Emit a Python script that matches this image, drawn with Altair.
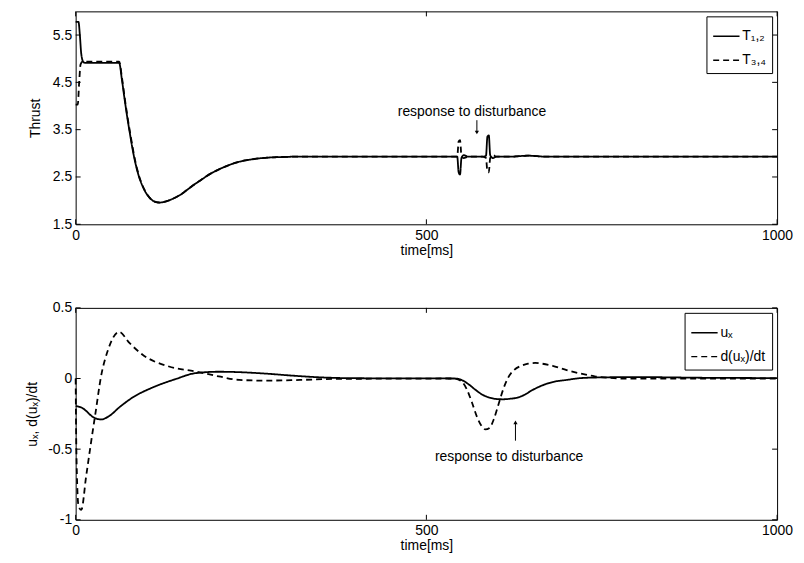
import altair as alt
import pandas as pd

# ---------------- data ----------------
t12 = [0, 4, 6, 8, 11, 14, 62, 66, 70, 74, 78, 82, 86, 90, 95, 100, 105, 110, 115, 120,
       125, 130, 140, 150, 160, 170, 180, 190, 200, 215, 230, 250, 270, 290, 320, 400, 500, 544, 546, 548,
       550, 553, 560, 580, 585, 587, 589, 591, 595, 600, 620, 645, 670, 700, 800, 900, 1000]
T12 = [5.78, 5.78, 5.5, 5.1, 4.93, 4.91, 4.91, 4.55, 4.12, 3.72, 3.36, 3.02, 2.74, 2.52, 2.32, 2.17, 2.07, 2.0, 1.97, 1.96,
       1.97, 1.99, 2.05, 2.13, 2.24, 2.35, 2.45, 2.55, 2.63, 2.73, 2.81, 2.87, 2.905, 2.92, 2.93, 2.93, 2.93, 2.93, 2.6, 2.55,
       2.9, 2.96, 2.93, 2.93, 2.95, 3.35, 3.38, 2.96, 2.9, 2.93, 2.93, 2.95, 2.93, 2.93, 2.93, 2.93, 2.93]
t34 = [0, 3, 5, 7, 10, 14, 62, 66, 70, 74, 78, 82, 86, 90, 95, 100, 105, 110, 115, 120,
       125, 130, 140, 150, 160, 170, 180, 190, 200, 215, 230, 250, 270, 290, 320, 400, 500, 544, 546, 548,
       550, 553, 560, 580, 585, 587, 589, 591, 595, 600, 620, 645, 670, 700, 800, 900, 1000]
T34 = [4.03, 4.03, 4.5, 4.88, 4.94, 4.94, 4.94, 4.6, 4.16, 3.76, 3.4, 3.06, 2.77, 2.54, 2.33, 2.18, 2.07, 2.0, 1.97, 1.96,
       1.97, 1.99, 2.05, 2.13, 2.24, 2.35, 2.45, 2.55, 2.63, 2.73, 2.81, 2.87, 2.905, 2.92, 2.93, 2.93, 2.93, 2.93, 3.25, 3.28,
       2.95, 2.9, 2.93, 2.93, 2.9, 2.62, 2.6, 2.9, 2.96, 2.93, 2.93, 2.95, 2.93, 2.93, 2.93, 2.93, 2.93]

t_ux = [0, 5, 10, 15, 24, 36, 48, 62, 81, 109, 142, 171, 204, 233, 270, 310, 350, 400, 540, 550,
        560, 570, 580, 590, 600, 610, 620, 630, 640, 650, 660, 670, 680, 700, 720, 750, 800, 900, 1000]
ux = [-0.195, -0.2, -0.21, -0.23, -0.27, -0.29, -0.265, -0.205, -0.135, -0.065, -0.005, 0.038, 0.048, 0.045, 0.035, 0.02,
      0.008, 0.002, 0.0, -0.01, -0.04, -0.08, -0.115, -0.135, -0.145, -0.147, -0.143, -0.135, -0.115, -0.085,
      -0.06, -0.04, -0.025, -0.01, 0.003, 0.008, 0.01, 0.005, 0.003]
t_du = [0, 1, 4, 8, 15, 22, 29, 36, 46, 62, 77, 95, 133, 171, 204, 233, 270, 320, 370, 540,
        550, 558, 565, 572, 578, 584, 590, 596, 603, 610, 617, 625, 635, 645, 655, 665, 680, 700, 720, 740,
        760, 780, 850, 1000]
du = [0.0, -0.5, -0.9, -0.93, -0.69, -0.45, -0.22, 0.01, 0.2, 0.33, 0.25, 0.17, 0.085, 0.05, 0.015, -0.01, -0.015, -0.01,
      -0.003, 0.0, -0.02, -0.08, -0.17, -0.27, -0.33, -0.36, -0.35, -0.29, -0.18, -0.07, 0.01, 0.06, 0.09, 0.105, 0.11,
      0.105, 0.09, 0.06, 0.035, 0.015, 0.005, 0.0, 0.0, 0.0]

top_names = ["T\u2081,\u2082", "T\u2083,\u2084"]
bot_names = ["u\u2093", "d(u\u2093)/dt"]

x_ticks = [0, 500, 1000]
y1_ticks = [1.5, 2.5, 3.5, 4.5, 5.5]
y2_ticks = [-1, -0.5, 0, 0.5]

note_text = "response to disturbance"
top_note_t, top_note_v = [565], [3.88]
top_arrow_t, top_arrow_from, top_arrow_to = [572], [3.70], [3.44]
bot_note_t, bot_note_v = [618], [-0.555]
bot_arrow_t, bot_arrow_from, bot_arrow_to = [627], [-0.44], [-0.31]

# ---------------- chart ----------------
FONT = "Liberation Sans, Arial, DejaVu Sans"
W, H1, H2 = 705, 214, 213
TICK = 5

df_top = pd.concat([
    pd.DataFrame({"t": t12, "v": T12, "s": top_names[0]}),
    pd.DataFrame({"t": t34, "v": T34, "s": top_names[1]}),
])
df_bot = pd.concat([
    pd.DataFrame({"t": t_ux, "v": ux, "s2": bot_names[0]}),
    pd.DataFrame({"t": t_du, "v": du, "s2": bot_names[1]}),
])

xscale = alt.Scale(domain=[0, 1000], nice=False, zero=False)


def legend():
    return alt.Legend(title=None, orient="top-right", offset=5, padding=6,
                      strokeColor="black", fillColor="white", cornerRadius=0,
                      symbolType="stroke", symbolSize=700, symbolStrokeWidth=1.5,
                      symbolStrokeColor="black", labelFontSize=14, labelFont=FONT,
                      labelColor="black", rowPadding=3, labelOffset=2)


def panel(df, field, names, yscale, yticks, H, ytitle, yfmt_expr, note_t, note_v,
          arr_t, arr_from, arr_to, head_shape, title_pad):
    xaxis = alt.Axis(values=x_ticks, title="time[ms]", titlePadding=1, labelExpr="datum.value + ''")
    yaxis = alt.Axis(values=yticks, title=ytitle, labelExpr=yfmt_expr, titlePadding=title_pad)
    X = alt.X("t:Q", scale=xscale, axis=xaxis, title="time[ms]")
    Y = alt.Y("v:Q", scale=yscale, axis=yaxis, title=ytitle)
    lines = alt.Chart(df).mark_line(color="black", strokeWidth=1.8, interpolate="monotone").encode(
        x=X, y=Y,
        strokeDash=alt.StrokeDash(f"{field}:N", sort=names,
                                  scale=alt.Scale(domain=names, range=[[1, 0], [6, 4]]),
                                  legend=legend()),
        order=alt.Order("t:Q"),
    )
    xt = pd.DataFrame({"t": x_ticks})
    yt = pd.DataFrame({"v": yticks})
    r = dict(color="black", strokeWidth=1)
    xb = alt.Chart(xt).mark_rule(**r).encode(x=X, y=alt.value(H), y2=alt.value(H - TICK))
    xtp = alt.Chart(xt).mark_rule(**r).encode(x=X, y=alt.value(0), y2=alt.value(TICK))
    yl = alt.Chart(yt).mark_rule(**r).encode(y=Y, x=alt.value(0), x2=alt.value(TICK))
    yr = alt.Chart(yt).mark_rule(**r).encode(y=Y, x=alt.value(W), x2=alt.value(W - TICK))
    nd = pd.DataFrame({"t": note_t, "v": note_v, "txt": [note_text] * len(note_t)})
    txt = alt.Chart(nd).mark_text(font=FONT, fontSize=14, color="black",
                                  baseline="middle").encode(x=X, y=Y, text="txt:N")
    ad = pd.DataFrame({"t": arr_t, "v": arr_from, "v2": arr_to})
    shaft = alt.Chart(ad).mark_rule(color="black", strokeWidth=1).encode(x=X, y=Y, y2="v2:Q")
    hd = pd.DataFrame({"t": arr_t, "v": arr_to})
    head = alt.Chart(hd).mark_point(shape=head_shape, filled=True, color="black", size=18,
                                    opacity=1).encode(x=X, y=Y)
    return alt.layer(lines, xb, xtp, yl, yr, txt, shaft, head).properties(width=W, height=H)


top = panel(df_top, "s", top_names, alt.Scale(domain=[1.5, 6], nice=False, zero=False), y1_ticks, H1,
            "Thrust", "format(datum.value, '.1f')", top_note_t, top_note_v,
            top_arrow_t, top_arrow_from, top_arrow_to, "triangle-down", 10)
bot = panel(df_bot, "s2", bot_names, alt.Scale(domain=[-1, 0.5], nice=False, zero=False), y2_ticks, H2,
            "u\u2093, d(u\u2093)/dt", "datum.value + ''", bot_note_t, bot_note_v,
            bot_arrow_t, bot_arrow_from, bot_arrow_to, "triangle-up", 8)

chart = alt.vconcat(top, bot, spacing=42).resolve_scale(
    x="independent", y="independent", strokeDash="independent"
).resolve_legend(strokeDash="independent").properties(
    padding={"left": 17, "top": 1, "right": 2, "bottom": 2},
    background="white",
).configure_view(stroke="black", strokeWidth=1).configure_axis(
    labelFont=FONT, labelFontSize=14, labelColor="black", titleFont=FONT, titleFontSize=14,
    titleFontWeight="normal", titleColor="black", ticks=False, domain=False, grid=False,
    labelPadding=4, labelFlush=False,
)

chart.save("out.html", embed_options={"renderer": "svg", "actions": False})
